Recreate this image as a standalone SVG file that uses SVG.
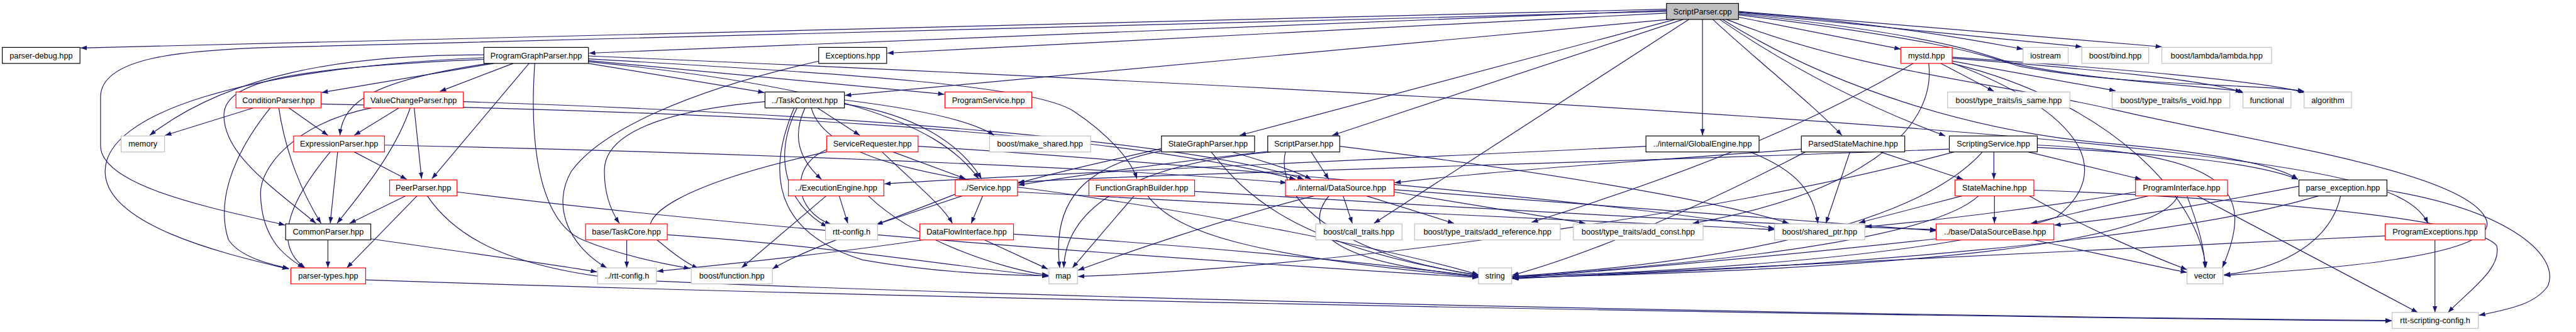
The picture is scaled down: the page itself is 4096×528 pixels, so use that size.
<svg xmlns="http://www.w3.org/2000/svg" width="4096" height="528" viewBox="0 0 4096 528">
<defs>
<marker id="a" markerWidth="11" markerHeight="8" refX="11" refY="4" orient="auto" markerUnits="userSpaceOnUse"><path d="M0,0 L11,4 L0,8 z" fill="#191970"/></marker>
<style>
.node rect{fill:#fff;stroke-width:1.3}
.b rect{stroke:#000}
.r rect{stroke:#ff0000}
.g rect{stroke:#bfbfbf}
.root rect{fill:#bfbfbf;stroke:#000}
.node text{font-family:"Liberation Sans",Arial,sans-serif;font-size:14px;text-anchor:middle;fill:#000}
#edges path{fill:none;stroke:#191970;stroke-width:1.3;marker-end:url(#a)}
</style>
</defs>
<rect width="4096" height="528" fill="#fff"/>
<g transform="scale(0.90842)">
<g id="edges">
<path d="M2917,16 L141,84"/>
<path d="M2917,20 C1900,40 900,72 475,83 C320,88 176,100 176,170 L176,255 C176,330 400,370 499,394"/>
<path d="M2917,18 L1031,93"/>
<path d="M2917,23 L1553,93"/>
<path d="M2921,34 L1479,167"/>
<path d="M2932,34 L2170,237"/>
<path d="M2946,34 L2332,237"/>
<path d="M2980,34 L2980,237"/>
<path d="M2956,34 L2405,391"/>
<path d="M2998,34 C3080,110 3170,180 3224,237"/>
<path d="M3010,34 C3150,130 3290,195 3405,238"/>
<path d="M3043,30 L3327,86"/>
<path d="M3043,21 C3300,40 3480,75 3541,86"/>
<path d="M3043,22 L3644,82"/>
<path d="M3043,20 L3784,82"/>
<path d="M3043,24 C3400,62 3470,95 3520,110 C3650,140 3850,150 3924,160"/>
<path d="M3043,26 C3420,72 3480,100 3535,116 C3720,152 3950,146 4033,160"/>
<path d="M3022,34 C3250,125 3500,145 3700,192 C3950,250 4320,300 4352,385 C4375,445 4100,470 3893,482"/>
<path d="M3015,34 C3200,150 3450,232 3700,252 C3880,268 3990,290 4022,314"/>
<path d="M847,96 C600,96 400,130 262,237"/>
<path d="M847,101 C420,120 184,200 184,300 C184,400 420,450 505,471"/>
<path d="M847,104 C520,118 395,140 392,200 C390,270 480,330 553,391"/>
<path d="M856,111 C660,140 600,175 595,237"/>
<path d="M864,111 L563,162"/>
<path d="M898,111 L770,160"/>
<path d="M926,111 L756,313"/>
<path d="M936,111 C925,270 950,390 1020,420 C1080,445 1150,460 1208,470"/>
<path d="M1030,111 L1338,162"/>
<path d="M1030,106 L1653,165"/>
<path d="M1030,103 C1500,130 1810,150 1880,195 C1940,235 1980,280 1990,313"/>
<path d="M1030,108 C1450,150 1640,210 1713,313"/>
<path d="M1030,98 C2000,140 3200,200 3760,262 C4100,300 4220,330 4250,391"/>
<path d="M1433,107 C1200,160 1050,230 1000,300 C965,360 995,430 1062,469"/>
<path d="M443,189 L289,237"/>
<path d="M506,189 L574,237"/>
<path d="M488,189 C500,270 530,340 562,391"/>
<path d="M473,189 C400,280 380,360 400,420 C420,450 470,462 506,470"/>
<path d="M562,182 C1200,195 1900,220 2268,314"/>
<path d="M698,189 L620,237"/>
<path d="M718,189 C690,270 630,340 590,391"/>
<path d="M725,189 L738,313"/>
<path d="M650,189 C520,215 455,290 456,340 C458,420 500,450 532,469"/>
<path d="M811,178 C1500,200 2100,250 2282,314"/>
<path d="M1339,178 C1138,196 1060,241 1058,296 C1057,340 1070,370 1084,391"/>
<path d="M1431,189 L1505,237"/>
<path d="M1409,189 C1385,241 1400,280 1438,314"/>
<path d="M1395,189 C1350,280 1380,360 1448,397"/>
<path d="M1390,189 C1330,330 1380,415 1510,455 C1640,478 1760,482 1835,483"/>
<path d="M1420,189 C1440,260 1560,300 1800,330 C2100,370 2450,440 2588,481"/>
<path d="M1478,175 C1600,190 1700,210 1740,237"/>
<path d="M1478,182 C1600,200 1680,250 1718,313"/>
<path d="M1563,266 L1690,313"/>
<path d="M1544,266 C1600,320 1650,360 1667,391"/>
<path d="M1447,262 C1380,290 1390,370 1455,393"/>
<path d="M1607,256 C2000,280 2800,350 3106,400"/>
<path d="M1447,266 C1200,320 1100,380 1150,420 C1180,445 1200,460 1222,470"/>
<path d="M1446,343 L1298,469"/>
<path d="M1469,343 L1484,391"/>
<path d="M1520,343 C1600,420 1750,470 1835,482"/>
<path d="M1720,343 L1700,391"/>
<path d="M1684,343 L1534,393"/>
<path d="M1672,340 C1520,400 1400,440 1352,471"/>
<path d="M1781,336 C2200,360 2800,390 3106,402"/>
<path d="M1985,343 L1877,469"/>
<path d="M2009,343 C2060,410 2200,450 2588,485"/>
<path d="M2091,335 C2500,360 3000,390 3389,402"/>
<path d="M1723,420 L1834,471"/>
<path d="M1616,420 C1450,445 1250,465 1150,475"/>
<path d="M1774,410 C2100,430 2400,460 2588,484"/>
<path d="M1097,420 L1097,469"/>
<path d="M1168,411 C1450,430 1700,470 1835,484"/>
<path d="M574,420 L574,469"/>
<path d="M649,418 C800,440 950,460 1045,476"/>
<path d="M591,266 L578,391"/>
<path d="M578,266 C500,360 480,430 534,469"/>
<path d="M620,266 L712,314"/>
<path d="M673,254 C1200,265 1900,290 2252,320"/>
<path d="M710,343 L612,391"/>
<path d="M730,343 L607,469"/>
<path d="M748,343 C800,420 900,470 1100,490 C2000,530 3500,555 4186,561"/>
<path d="M800,336 C1300,400 2000,450 2588,486"/>
<path d="M640,490 C1500,520 3000,550 4186,562"/>
<path d="M2033,260 C1950,280 1850,300 1782,321"/>
<path d="M2033,264 C1900,290 1840,350 1855,469"/>
<path d="M2120,266 C2180,340 2260,430 2588,482"/>
<path d="M2157,266 C2220,285 2270,300 2295,314"/>
<path d="M2295,266 L2326,314"/>
<path d="M2219,265 C2000,290 1870,310 1782,324"/>
<path d="M2225,266 C1950,290 1865,380 1862,469"/>
<path d="M2250,266 C2230,350 2350,450 2588,481"/>
<path d="M2345,256 C2700,300 3000,350 3131,391"/>
<path d="M3063,266 C3150,300 3175,340 3182,391"/>
<path d="M2881,256 C2400,280 1800,305 1548,322"/>
<path d="M3238,266 L3196,391"/>
<path d="M3291,266 L3436,314"/>
<path d="M3153,261 C2900,280 2600,300 2441,320"/>
<path d="M3160,266 C3000,350 2800,440 2647,482"/>
<path d="M3490,266 L3490,314"/>
<path d="M3550,266 L3748,314"/>
<path d="M3412,261 C2800,285 2000,305 1782,319"/>
<path d="M3470,266 C3350,400 3000,460 2647,484"/>
<path d="M3566,254 C3900,270 3950,330 3890,468"/>
<path d="M3566,258 C3800,270 3950,285 4022,314"/>
<path d="M3420,266 C3000,380 2300,470 1887,484"/>
<path d="M3491,343 L3491,391"/>
<path d="M3434,343 L3254,390"/>
<path d="M3463,343 C3380,420 3000,460 2647,485"/>
<path d="M3560,333 C3900,345 4330,380 4370,430 C4380,470 4320,510 4285,547"/>
<path d="M3552,343 C3650,400 3770,450 3828,472"/>
<path d="M3760,343 L3555,391"/>
<path d="M3738,336 C3600,360 3400,385 3265,397"/>
<path d="M3828,343 C3850,400 3860,440 3859,469"/>
<path d="M3812,343 C3780,420 3400,470 2647,486"/>
<path d="M3846,343 L4232,547"/>
<path d="M4097,343 C4080,420 4000,470 3893,481"/>
<path d="M4178,333 C4400,370 4480,450 4460,500 C4440,530 4400,540 4339,552"/>
<path d="M4024,326 C3850,360 3700,385 3596,394"/>
<path d="M4058,343 C3800,420 3200,470 2647,487"/>
<path d="M4262,420 L4262,547"/>
<path d="M4175,413 C3600,440 3000,470 2647,488"/>
<path d="M3389,418 C3100,450 2800,475 2647,487"/>
<path d="M3560,420 C3700,450 3790,470 3828,477"/>
<path d="M2351,343 L2367,391"/>
<path d="M2392,343 L2545,391"/>
<path d="M2440,336 L2775,391"/>
<path d="M2326,343 C2280,400 2320,460 2588,483"/>
<path d="M2300,343 C2150,380 1950,450 1887,473"/>
<path d="M2440,332 C2800,360 3200,390 3389,404"/>
<path d="M3397,111 L3490,160"/>
<path d="M3417,107 L3703,159"/>
<path d="M3349,111 C3200,200 3000,290 2681,389"/>
<path d="M3376,111 C3390,230 3250,340 2963,391"/>
<path d="M3417,100 C3700,120 3950,140 4035,162"/>
<path d="M3417,102 C3650,120 3870,140 3928,163"/>
<path d="M3417,110 C3650,200 3700,300 3600,380 C3400,450 2900,478 2647,484"/>
<path d="M3417,111 C3700,180 3850,350 3861,469"/>
</g>
<g id="n0" class="node root"><rect x="2917" y="6" width="126" height="28"/><text x="2980" y="25">ScriptParser.cpp</text></g>
<g id="n1" class="node b"><rect x="4" y="83" width="136" height="28"/><text x="72" y="102">parser-debug.hpp</text></g>
<g id="n2" class="node b"><rect x="847" y="83" width="183" height="28"/><text x="938.5" y="102">ProgramGraphParser.hpp</text></g>
<g id="n3" class="node b"><rect x="1433" y="83" width="119" height="28"/><text x="1492.5" y="102">Exceptions.hpp</text></g>
<g id="n4" class="node r"><rect x="3327" y="83" width="90" height="28"/><text x="3372" y="102">mystd.hpp</text></g>
<g id="n5" class="node g"><rect x="3541" y="83" width="79" height="28"/><text x="3580.5" y="102">iostream</text></g>
<g id="n6" class="node g"><rect x="3644" y="83" width="117" height="28"/><text x="3702.5" y="102">boost/bind.hpp</text></g>
<g id="n7" class="node g"><rect x="3784" y="83" width="192" height="28"/><text x="3880" y="102">boost/lambda/lambda.hpp</text></g>
<g id="n8" class="node r"><rect x="413" y="161" width="149" height="28"/><text x="487.5" y="180">ConditionParser.hpp</text></g>
<g id="n9" class="node r"><rect x="637" y="161" width="174" height="28"/><text x="724" y="180">ValueChangeParser.hpp</text></g>
<g id="n10" class="node b"><rect x="1339" y="161" width="139" height="28"/><text x="1408.5" y="180">../TaskContext.hpp</text></g>
<g id="n11" class="node r"><rect x="1654" y="161" width="152" height="28"/><text x="1730" y="180">ProgramService.hpp</text></g>
<g id="n12" class="node g"><rect x="3409" y="161" width="214" height="28"/><text x="3516" y="180">boost/type_traits/is_same.hpp</text></g>
<g id="n13" class="node g"><rect x="3697" y="161" width="206" height="28"/><text x="3800" y="180">boost/type_traits/is_void.hpp</text></g>
<g id="n14" class="node g"><rect x="3926" y="161" width="84" height="28"/><text x="3968" y="180">functional</text></g>
<g id="n15" class="node g"><rect x="4033" y="161" width="83" height="28"/><text x="4074.5" y="180">algorithm</text></g>
<g id="n16" class="node g"><rect x="212" y="238" width="76" height="28"/><text x="250" y="257">memory</text></g>
<g id="n17" class="node r"><rect x="514" y="238" width="159" height="28"/><text x="593.5" y="257">ExpressionParser.hpp</text></g>
<g id="n18" class="node r"><rect x="1447" y="238" width="160" height="28"/><text x="1527" y="257">ServiceRequester.hpp</text></g>
<g id="n19" class="node g"><rect x="1732" y="238" width="177" height="28"/><text x="1820.5" y="257">boost/make_shared.hpp</text></g>
<g id="n20" class="node b"><rect x="2033" y="238" width="163" height="28"/><text x="2114.5" y="257">StateGraphParser.hpp</text></g>
<g id="n21" class="node b"><rect x="2219" y="238" width="126" height="28"/><text x="2282" y="257">ScriptParser.hpp</text></g>
<g id="n22" class="node b"><rect x="2881" y="238" width="198" height="28"/><text x="2980" y="257">../internal/GlobalEngine.hpp</text></g>
<g id="n23" class="node b"><rect x="3153" y="238" width="181" height="28"/><text x="3243.5" y="257">ParsedStateMachine.hpp</text></g>
<g id="n24" class="node b"><rect x="3412" y="238" width="154" height="28"/><text x="3489" y="257">ScriptingService.hpp</text></g>
<g id="n25" class="node r"><rect x="682" y="315" width="118" height="28"/><text x="741" y="334">PeerParser.hpp</text></g>
<g id="n26" class="node r"><rect x="1380" y="315" width="167" height="28"/><text x="1463.5" y="334">../ExecutionEngine.hpp</text></g>
<g id="n27" class="node r"><rect x="1672" y="315" width="109" height="28"/><text x="1726.5" y="334">../Service.hpp</text></g>
<g id="n28" class="node r"><rect x="1906" y="315" width="185" height="28"/><text x="1998.5" y="334">FunctionGraphBuilder.hpp</text></g>
<g id="n29" class="node r"><rect x="2250" y="315" width="190" height="28"/><text x="2345" y="334">../internal/DataSource.hpp</text></g>
<g id="n30" class="node r"><rect x="3422" y="315" width="138" height="28"/><text x="3491" y="334">StateMachine.hpp</text></g>
<g id="n31" class="node r"><rect x="3738" y="315" width="161" height="28"/><text x="3818.5" y="334">ProgramInterface.hpp</text></g>
<g id="n32" class="node b"><rect x="4024" y="315" width="154" height="28"/><text x="4101" y="334">parse_exception.hpp</text></g>
<g id="n33" class="node b"><rect x="500" y="392" width="149" height="28"/><text x="574.5" y="411">CommonParser.hpp</text></g>
<g id="n34" class="node r"><rect x="1025" y="392" width="143" height="28"/><text x="1096.5" y="411">base/TaskCore.hpp</text></g>
<g id="n35" class="node g"><rect x="1445" y="392" width="91" height="28"/><text x="1490.5" y="411">rtt-config.h</text></g>
<g id="n36" class="node r"><rect x="1610" y="392" width="164" height="28"/><text x="1692" y="411">DataFlowInterface.hpp</text></g>
<g id="n37" class="node g"><rect x="2303" y="392" width="151" height="28"/><text x="2378.5" y="411">boost/call_traits.hpp</text></g>
<g id="n38" class="node g"><rect x="2476" y="392" width="255" height="28"/><text x="2603.5" y="411">boost/type_traits/add_reference.hpp</text></g>
<g id="n39" class="node g"><rect x="2754" y="392" width="227" height="28"/><text x="2867.5" y="411">boost/type_traits/add_const.hpp</text></g>
<g id="n40" class="node g"><rect x="3106" y="392" width="158" height="28"/><text x="3185" y="411">boost/shared_ptr.hpp</text></g>
<g id="n41" class="node r"><rect x="3389" y="392" width="206" height="28"/><text x="3492" y="411">../base/DataSourceBase.hpp</text></g>
<g id="n42" class="node r"><rect x="4175" y="392" width="175" height="28"/><text x="4262.5" y="411">ProgramExceptions.hpp</text></g>
<g id="n43" class="node r"><rect x="509" y="469" width="131" height="28"/><text x="574.5" y="488">parser-types.hpp</text></g>
<g id="n44" class="node g"><rect x="1046" y="469" width="103" height="28"/><text x="1097.5" y="488">../rtt-config.h</text></g>
<g id="n45" class="node g"><rect x="1210" y="469" width="142" height="28"/><text x="1281" y="488">boost/function.hpp</text></g>
<g id="n46" class="node g"><rect x="1836" y="469" width="50" height="28"/><text x="1861" y="488">map</text></g>
<g id="n47" class="node g"><rect x="2588" y="469" width="58" height="28"/><text x="2617" y="488">string</text></g>
<g id="n48" class="node g"><rect x="3828" y="469" width="63" height="28"/><text x="3859.5" y="488">vector</text></g>
<g id="n49" class="node g"><rect x="4187" y="547" width="151" height="28"/><text x="4262.5" y="566">rtt-scripting-config.h</text></g>
</g>
</svg>
